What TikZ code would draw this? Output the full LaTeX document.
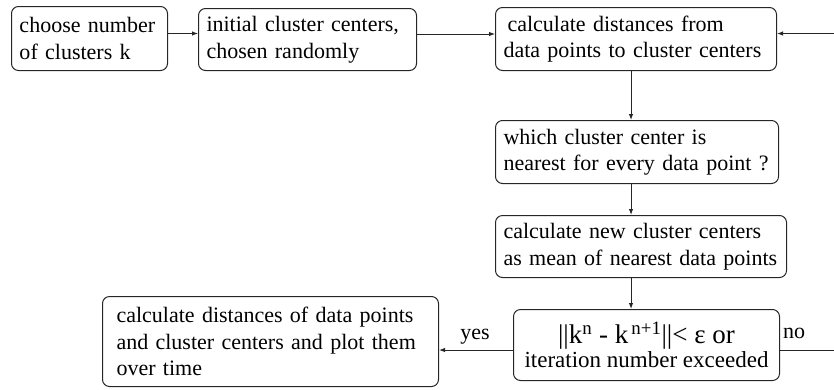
\documentclass[tikz,border=0pt]{standalone}
\usepackage{fontspec}
\setmainfont{Liberation Serif}
\usetikzlibrary{arrows.meta,calc}
\begin{document}
\begin{tikzpicture}[x=1pt,y=-1pt,
  box/.style={draw=black!85, line width=1pt, rounded corners=7pt, anchor=north west,
    inner xsep=8pt, inner ysep=0pt, align=left,
    font=\fontsize{22}{26.5}\selectfont},
  conn/.style={draw=black!85, line width=1pt, -{Latex[length=6pt,width=4.5pt]}},
  lbl/.style={font=\fontsize{22}{26.5}\selectfont, inner sep=0pt}]
\useasboundingbox (0,0) rectangle (834,389);
\node[box, text width=140pt, minimum height=64pt] (b1) at (11,6)
  {\mbox{choose number}\\\mbox{of clusters k}};
\node[box, text width=202pt, minimum height=62pt] (b2) at (198,8)
  {\mbox{initial cluster centers,}\\\mbox{chosen randomly}};
\node[box, text width=265pt, minimum height=63pt] (b3) at (495,7)
  {\mbox{\hspace{4pt}calculate distances from}\\\mbox{data points to cluster centers}};
\node[box, text width=267pt, minimum height=63pt] (b4) at (495,120)
  {\mbox{which cluster center is}\\\mbox{nearest for every data point ?}};
\node[box, text width=275pt, minimum height=62pt] (b5) at (495,215)
  {\mbox{calculate new cluster centers}\\\mbox{as mean of nearest data points}};
\node[box, align=center, inner xsep=4pt, minimum width=266pt, minimum height=71pt] (b6) at (513,309)
  {{\fontsize{27}{27}\selectfont ||k\textsuperscript{n} - k\textsuperscript{\,n+1}||< ε or}\\[-3pt]
   {\fontsize{23}{25}\selectfont iteration number exceeded}};
\node[box, inner xsep=14pt, text width=308pt, minimum height=90pt] (b7) at (102,296)
  {\mbox{calculate distances of data points}\\\mbox{and cluster centers and plot them}\\\mbox{over time}};
\coordinate (vx) at (631,0);
\coordinate (rx) at (850,0);
\draw[conn] ([yshift=5pt]b1.east) -- ([yshift=5pt]b1.east -| b2.west);
\draw[conn] ([yshift=5.5pt]b2.east) -- ([yshift=5.5pt]b2.east -| b3.west);
\draw[conn] (b3.south -| vx) -- (b4.north -| vx);
\draw[conn] (b4.south -| vx) -- (b5.north -| vx);
\draw[conn] (b5.south -| vx) -- (b6.north -| vx);
\draw[conn] ([yshift=-5pt]b6.west) -- ([yshift=-5pt]b6.west -| b7.east);
\draw[conn] ([yshift=-5pt]b6.east) -- ([yshift=-5pt]b6.east -| rx)
  |- ([yshift=5.5pt]b3.east);
\node[lbl] (yes) at (475,337) {yes};
\node[lbl] (no) at (794,333) {no};
\end{tikzpicture}
\end{document}
